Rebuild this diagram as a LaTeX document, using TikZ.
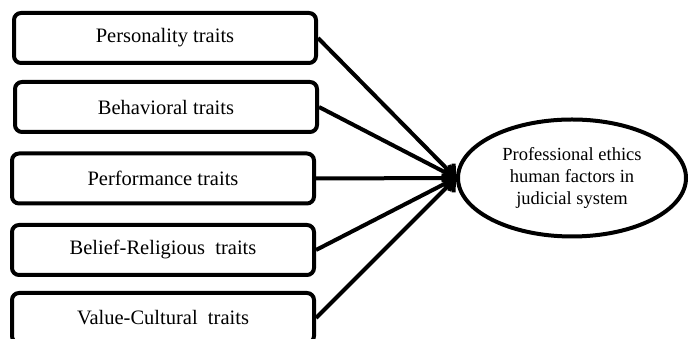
\documentclass[tikz,border=0pt]{standalone}
\usepackage{fontspec}
\setmainfont{Liberation Serif}
\usepackage{tikz}
\usetikzlibrary{shapes.geometric,arrows.meta}

\begin{document}
\begin{tikzpicture}[x=1pt,y=1pt,
    trait/.style={draw,line width=4pt,rounded corners=7pt,minimum width=302pt,minimum height=50pt,font=\fontsize{20.5}{24}\selectfont},
    outcome/.style={draw,ellipse,line width=4pt,minimum width=228pt,minimum height=117pt,inner sep=0pt,align=center,font=\fontsize{18.5}{22}\selectfont},
    link/.style={line width=4pt,-{Straight Barb[length=9pt,width=17pt]}}]
            \useasboundingbox (0,0) rectangle (689,339);
            \node (personality) at (165,301) [trait] {Personality traits};
            \node (behavioral) at (166,232) [trait] {Behavioral traits};
            \node (performance) at (163,160.5) [trait] {Performance traits};
            \node (belief) at (163,89) [trait] {Belief-Religious\ \ traits};
            \node (value) at (163,21) [trait] {Value-Cultural\ \ traits};
            \node (ethics) at (572,161) [outcome] {Professional ethics\\human factors in\\judicial system};

            \draw[link] (personality.east) -- (ethics.west);
            \draw[link] (behavioral.east) -- (ethics.west);
            \draw[link] (performance.east) -- (ethics.west);
            \draw[link] (belief.east) -- (ethics.west);
            \draw[link] (value.east) -- (ethics.west);
        \end{tikzpicture}
\end{document}
